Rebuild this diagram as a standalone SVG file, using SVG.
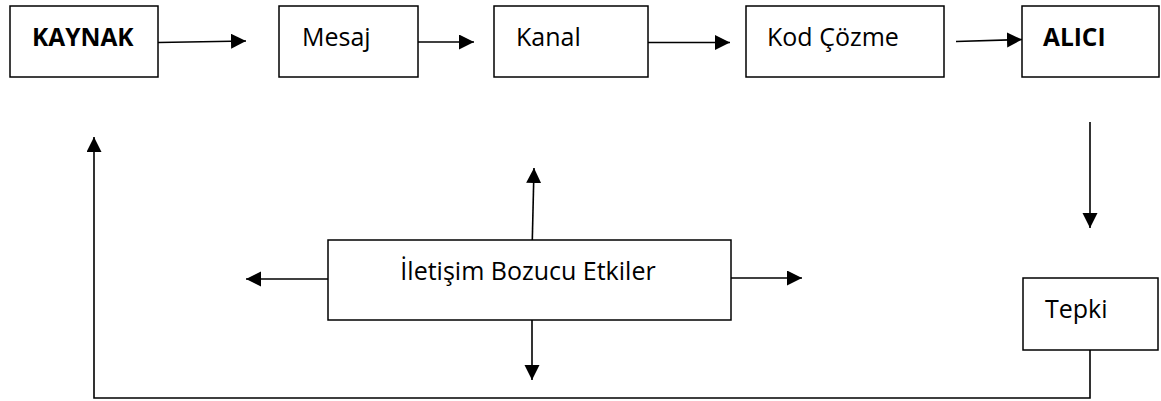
<svg xmlns="http://www.w3.org/2000/svg" width="1161" height="401" viewBox="0 0 1161 401">
<style>
.box{fill:#fff;stroke:#000;stroke-width:1.5}
.t{font-family:"Open Sans","Noto Sans","Liberation Sans",sans-serif;font-size:25px;fill:#000}
.b{font-weight:bold;font-size:24.5px}
.ln{fill:none;stroke:#000;stroke-width:1.6}
</style>
<defs>
<marker id="ah" markerUnits="userSpaceOnUse" markerWidth="16" markerHeight="16" refX="15" refY="7.5" orient="auto">
<path d="M0,0 L15,7.5 L0,15 z" fill="#000"/>
</marker>
</defs>
<rect width="1161" height="401" fill="#fff"/>
<g id="connectors">
<line class="ln" x1="158" y1="42.5" x2="246" y2="41" marker-end="url(#ah)"/>
<line class="ln" x1="418" y1="42" x2="474" y2="42" marker-end="url(#ah)"/>
<line class="ln" x1="648" y1="42.5" x2="730" y2="42.5" marker-end="url(#ah)"/>
<line class="ln" x1="956" y1="41.5" x2="1022" y2="39.5" marker-end="url(#ah)"/>
<line class="ln" x1="1090" y1="122" x2="1090" y2="228" marker-end="url(#ah)"/>
<polyline class="ln" points="1090,350 1090,398 94,398 94,137" marker-end="url(#ah)"/>
<line class="ln" x1="532.3" y1="240" x2="534" y2="168" marker-end="url(#ah)"/>
<line class="ln" x1="532" y1="320" x2="532" y2="380" marker-end="url(#ah)"/>
<line class="ln" x1="328" y1="279" x2="246" y2="279" marker-end="url(#ah)"/>
<line class="ln" x1="731" y1="278" x2="802" y2="278" marker-end="url(#ah)"/>
</g>
<g id="kaynak"><rect class="box" x="10" y="6" width="148" height="71"/><text class="t b" x="32" y="46">KAYNAK</text></g>
<g id="mesaj"><rect class="box" x="279" y="6" width="139" height="71"/><text class="t" x="302" y="46">Mesaj</text></g>
<g id="kanal"><rect class="box" x="494" y="6" width="154" height="71"/><text class="t" x="516" y="46">Kanal</text></g>
<g id="kodcozme"><rect class="box" x="746" y="6" width="198" height="71"/><text class="t" x="767" y="46">Kod Çözme</text></g>
<g id="alici"><rect class="box" x="1022" y="6" width="137" height="71"/><text class="t b" x="1043" y="46">ALICI</text></g>
<g id="bozucu"><rect class="box" x="328" y="240" width="403" height="80"/><text class="t" x="528" y="280" text-anchor="middle">İletişim Bozucu Etkiler</text></g>
<g id="tepki"><rect class="box" x="1023" y="278" width="135" height="72"/><text class="t" x="1045" y="318">Tepki</text></g>
</svg>
